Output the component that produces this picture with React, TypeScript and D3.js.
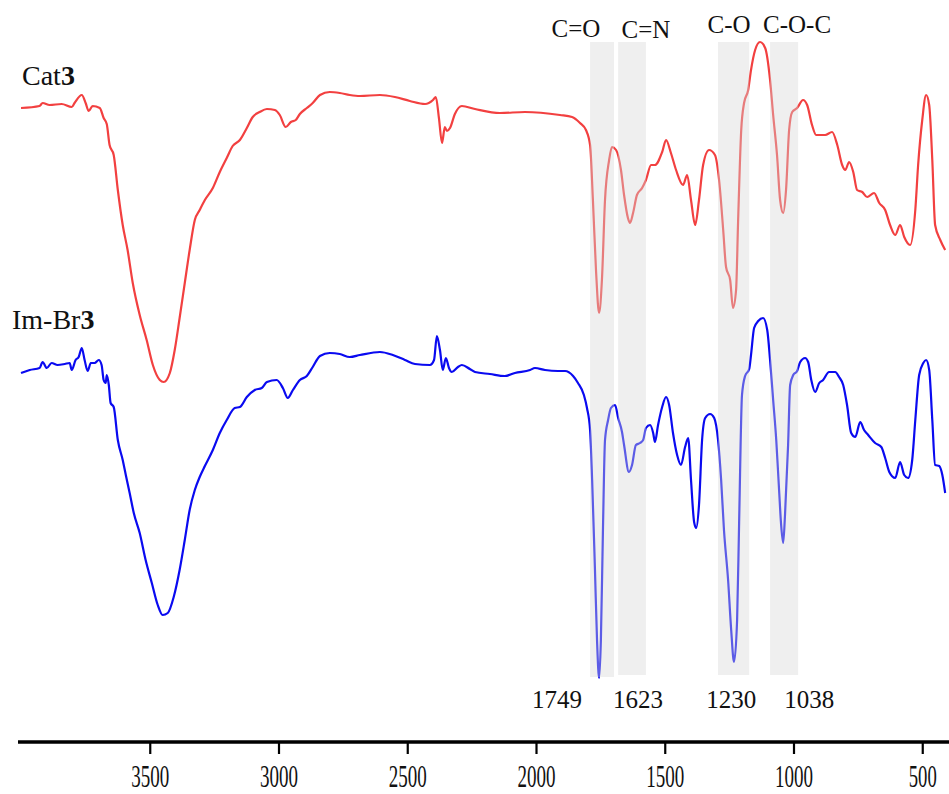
import React, { useEffect, useRef } from 'react';
import * as d3 from 'd3';

// ---- data (wavenumber cm-1, offset transmittance a.u.) ----
const wavenumberTicks = [3500, 3000, 2500, 2000, 1500, 1000, 500];

const cat3Spectrum: [number, number][] = [
  [4000, 634], [3928, 636], [3916, 639], [3889, 637], [3842, 638], [3803, 635], [3792, 639],
  [3764, 647], [3749, 639], [3737, 631], [3722, 636], [3694, 634], [3679, 624], [3667, 618],
  [3656, 597], [3640, 587], [3624, 552], [3605, 517], [3586, 492], [3566, 459], [3539, 427],
  [3512, 402], [3488, 377], [3461, 362], [3446, 360], [3422, 369], [3403, 392], [3384, 424],
  [3364, 459], [3345, 492], [3325, 522], [3306, 532], [3286, 542], [3255, 554], [3228, 570],
  [3201, 584], [3178, 596], [3150, 602], [3123, 614], [3100, 625], [3073, 630], [3045, 633],
  [3014, 632], [2995, 627], [2972, 615], [2952, 620], [2933, 622], [2917, 628], [2890, 634],
  [2867, 639], [2839, 647], [2801, 650], [2762, 649], [2723, 647], [2684, 646], [2606, 647],
  [2548, 645], [2490, 641], [2431, 638], [2400, 642], [2389, 645], [2377, 624], [2365, 599],
  [2354, 615], [2346, 611], [2334, 614], [2315, 628], [2288, 636], [2237, 633], [2140, 629],
  [2043, 630], [1907, 627], [1860, 625], [1829, 619], [1806, 612], [1790, 597], [1779, 542],
  [1767, 472], [1755, 429], [1744, 462], [1732, 542], [1716, 582], [1705, 595], [1689, 592],
  [1670, 572], [1658, 547], [1643, 524], [1635, 519], [1623, 529], [1608, 547], [1588, 554],
  [1573, 562], [1553, 577], [1538, 577], [1510, 590], [1495, 602], [1476, 589], [1456, 572],
  [1429, 557], [1413, 567], [1398, 542], [1382, 517], [1367, 542], [1351, 577], [1328, 592],
  [1305, 587], [1289, 562], [1273, 512], [1262, 475], [1246, 462], [1235, 434], [1223, 452],
  [1215, 522], [1203, 612], [1192, 639], [1176, 652], [1165, 672], [1149, 692], [1130, 700],
  [1110, 694], [1091, 662], [1079, 627], [1064, 587], [1052, 542], [1040, 529], [1029, 552],
  [1017, 612], [1005, 630], [986, 634], [963, 642], [947, 637], [928, 617], [912, 607],
  [877, 607], [850, 610], [830, 597], [811, 577], [799, 572], [784, 580], [768, 570],
  [753, 552], [733, 550], [714, 545], [687, 549], [667, 539], [644, 532], [625, 517],
  [605, 507], [586, 517], [570, 505], [547, 497], [527, 532], [516, 577], [500, 622],
  [485, 647], [473, 637], [461, 582], [450, 517], [430, 502], [411, 492],
];

const imBr3Spectrum: [number, number][] = [
  [4000, 369], [3966, 372], [3928, 374], [3916, 380], [3900, 374], [3881, 379], [3858, 377],
  [3830, 378], [3811, 379], [3803, 372], [3788, 382], [3776, 385], [3764, 394], [3753, 382],
  [3741, 371], [3729, 379], [3714, 379], [3698, 382], [3687, 377], [3679, 362], [3671, 359],
  [3667, 367], [3659, 357], [3652, 339], [3640, 335], [3624, 302], [3605, 282], [3593, 267],
  [3578, 249], [3562, 229], [3539, 209], [3516, 182], [3492, 159], [3469, 137], [3450, 127],
  [3430, 129], [3407, 145], [3384, 172], [3364, 202], [3345, 232], [3325, 252], [3306, 265],
  [3286, 276], [3255, 292], [3228, 309], [3201, 322], [3170, 334], [3150, 335], [3123, 345],
  [3092, 352], [3065, 354], [3045, 360], [3007, 362], [2983, 354], [2964, 344], [2944, 352],
  [2917, 362], [2890, 366], [2867, 375], [2839, 386], [2801, 389], [2762, 388], [2723, 385],
  [2684, 387], [2606, 390], [2556, 387], [2509, 382], [2470, 378], [2412, 377], [2396, 382],
  [2385, 406], [2373, 392], [2362, 372], [2350, 384], [2338, 374], [2327, 370], [2303, 375],
  [2288, 377], [2257, 373], [2237, 370], [2179, 368], [2121, 366], [2082, 369], [2023, 372],
  [2004, 374], [1965, 372], [1915, 371], [1887, 371], [1856, 366], [1837, 359], [1814, 347],
  [1802, 334], [1790, 312], [1782, 262], [1771, 172], [1763, 102], [1755, 64], [1748, 102],
  [1740, 212], [1732, 302], [1720, 322], [1709, 334], [1693, 337], [1681, 324], [1666, 310],
  [1658, 297], [1639, 270], [1627, 277], [1612, 297], [1596, 299], [1584, 302], [1573, 314],
  [1557, 317], [1545, 309], [1538, 300], [1526, 317], [1510, 335], [1495, 345], [1483, 337],
  [1468, 309], [1452, 287], [1437, 277], [1421, 295], [1409, 304], [1398, 262], [1386, 220],
  [1378, 214], [1367, 237], [1355, 302], [1343, 324], [1324, 328], [1308, 324], [1293, 302],
  [1281, 262], [1270, 212], [1254, 162], [1242, 112], [1231, 80], [1219, 122], [1211, 222],
  [1200, 347], [1188, 366], [1172, 373], [1165, 387], [1153, 414], [1137, 421], [1118, 424],
  [1102, 412], [1091, 382], [1079, 342], [1067, 302], [1056, 252], [1048, 217], [1040, 199],
  [1033, 227], [1021, 297], [1013, 357], [1001, 367], [986, 371], [974, 380], [955, 384],
  [943, 380], [931, 362], [916, 350], [900, 359], [885, 362], [862, 370], [838, 370],
  [823, 365], [807, 357], [792, 337], [776, 309], [760, 305], [741, 320], [726, 312],
  [710, 307], [683, 299], [659, 295], [644, 284], [628, 270], [605, 264], [586, 280],
  [570, 267], [555, 264], [539, 282], [527, 322], [512, 367], [496, 379], [485, 382],
  [473, 372], [461, 322], [450, 277], [434, 276], [422, 267], [411, 249],
];

// functional-group bands (wavenumber ranges)
const bandNames = ['C=O', 'C=N', 'C-O', 'C-O-C'];
const bandFrom = [1790, 1681, 1293, 1091];
const bandTo = [1697, 1573, 1172, 982];
const bandNameAt = [1845, 1573, 1250, 986];
// peak positions labelled under the bands
const peakLabels = ['1749', '1623', '1230', '1038'];
const peakLabelAt = [1918, 1604, 1242, 939];

const W = 949;
const H = 794;
const FONT = '"Liberation Serif", "Times New Roman", serif';

export default function App() {
  const ref = useRef<SVGSVGElement | null>(null);

  useEffect(() => {
    const svg = d3.select(ref.current);
    svg.selectAll('*').remove();

    const axisY = 742;
    const x = d3.scaleLinear().domain([4000, 400]).range([21, 948]);
    const y = d3.scaleLinear().domain([0, 742]).range([axisY, 0]);

    const line = d3
      .line<[number, number]>()
      .x((d) => x(d[0]))
      .y((d) => y(d[1]))
      .curve(d3.curveMonotoneX);

    svg
      .append('path')
      .datum(cat3Spectrum)
      .attr('d', line)
      .attr('fill', 'none')
      .attr('stroke', 'rgb(242,64,64)')
      .attr('stroke-width', 2.2)
      .attr('stroke-linejoin', 'round');

    svg
      .append('path')
      .datum(imBr3Spectrum)
      .attr('d', line)
      .attr('fill', 'none')
      .attr('stroke', 'rgb(10,10,240)')
      .attr('stroke-width', 2.2)
      .attr('stroke-linejoin', 'round');

    // translucent bands on top of the spectra
    const bandTop = 700;
    const bandBottom = [65, 67, 67, 67];
    bandNames.forEach((_, i) => {
      svg
        .append('rect')
        .attr('x', x(bandFrom[i]))
        .attr('width', x(bandTo[i]) - x(bandFrom[i]))
        .attr('y', y(bandTop))
        .attr('height', y(bandBottom[i]) - y(bandTop))
        .attr('fill', 'rgb(214,214,214)')
        .attr('fill-opacity', 0.4);
    });

    // band names
    const nameBase = [705, 704, 709, 709];
    bandNames.forEach((name, i) => {
      svg
        .append('text')
        .attr('x', x(bandNameAt[i]))
        .attr('y', y(nameBase[i]))
        .attr('text-anchor', 'middle')
        .attr('font-family', FONT)
        .attr('font-size', 25)
        .attr('fill', '#111')
        .text(name);
    });

    // peak labels
    peakLabels.forEach((lab, i) => {
      svg
        .append('text')
        .attr('x', x(peakLabelAt[i]))
        .attr('y', y(34))
        .attr('text-anchor', 'middle')
        .attr('font-family', FONT)
        .attr('font-size', 25)
        .attr('fill', '#111')
        .text(lab);
    });

    // series labels
    const seriesLabels = [
      { pre: 'Cat', num: '3', x: 22, v: 657 },
      { pre: 'Im-Br', num: '3', x: 12, v: 413 },
    ];
    seriesLabels.forEach((s) => {
      const t = svg
        .append('text')
        .attr('x', s.x)
        .attr('y', y(s.v))
        .attr('font-family', FONT)
        .attr('font-size', 28)
        .attr('fill', '#111');
      t.append('tspan').text(s.pre);
      t.append('tspan').attr('font-weight', 'bold').text(s.num);
    });

    // x axis
    const axis = d3
      .axisBottom(x)
      .tickValues(wavenumberTicks)
      .tickSize(12)
      .tickSizeOuter(0)
      .tickFormat(d3.format('d'));
    const g = svg.append('g').attr('transform', `translate(0,${axisY})`).call(axis);
    g.select('.domain').remove();
    g.append('line')
      .attr('x1', 18)
      .attr('x2', W)
      .attr('y1', 0)
      .attr('y2', 0)
      .attr('stroke', '#000')
      .attr('stroke-width', 3.5);
    g.selectAll('.tick line').attr('stroke', '#000').attr('stroke-width', 2.2);
    g.selectAll('.tick text')
      .attr('y', 45)
      .attr('dy', 0)
      .attr('font-family', FONT)
      .attr('font-size', 32)
      .attr('fill', '#111')
      .attr('textLength', (d: any) => (String(d).length === 3 ? 28 : 38))
      .attr('lengthAdjust', 'spacingAndGlyphs');
  }, []);

  return (
    <svg
      ref={ref}
      width={W}
      height={H}
      style={{ position: 'absolute', left: 0, top: 0, background: '#fff' }}
    />
  );
}
